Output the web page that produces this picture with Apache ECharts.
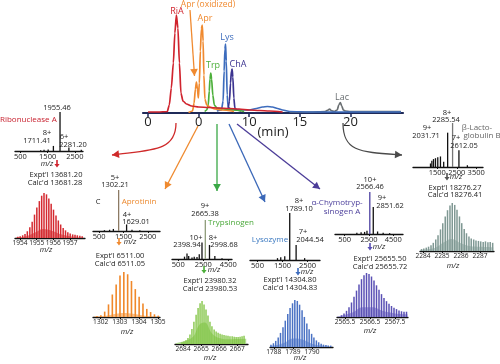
<!DOCTYPE html>
<html><head><meta charset="utf-8">
<script src="https://cdn.jsdelivr.net/npm/echarts@6/dist/echarts.min.js"></script>
<style>html,body{margin:0;padding:0;background:#fff}#c{width:500px;height:364px}</style>
</head><body><div id="c"></div><script>
// ---------------- DATA ----------------
// Chromatogram (time, min ; relative intensity)
const chromTicks = [0, 5, 10, 15, 20];
const chromTickLabels = ['0', '0', '10', '15', '20'];
const riaTime = [0,1,1.9,2.1,2.3,2.5,2.65,2.8,2.95,3.1,3.25,3.45,3.8,4.3,5,6,7,8,9,10,11,12,13.3];
const riaInt  = [1,1,1.5,8,25,50,80,98,85,50,20,12,9,7,6,5.5,5,4.5,4,3,2.5,2,1];
const aprTime = [4.0,4.4,4.55,4.68,4.78,4.88,4.97,5.07,5.17,5.27,5.36,5.44,5.52,5.62,5.8,6.1,6.6,7.3,8.5];
const aprInt  = [0.5,2,10,24,31,24,15,30,62,84,88,72,38,14,8,6,4,3,1.5];
const trpTime = [5.6,5.8,5.95,6.05,6.12,6.2,6.28,6.4,6.55,6.8,7.4,8.4,9.5];
const trpInt  = [1.5,3,8,22,34,40,34,18,8,5,4,3,1.5];
const lysTime = [6.8,7.25,7.42,7.52,7.6,7.66,7.73,7.82,7.92,8.2,9,10,10.7,11.3,11.8,12.3,12.8,13.3,14,16,18,20,22,25];
const lysInt  = [2,3,12,42,64,69,52,18,6,3.5,3,3,4.5,6,6.5,6,4.5,3,1.5,1,1,1,1,1];
const chaTime = [7.9,8.05,8.15,8.24,8.31,8.38,8.48,8.58,8.75,9.2];
const chaInt  = [3,12,30,42,44,36,15,5,3,2];
const lacTime = [14,16,17.5,17.8,17.95,18.1,18.4,18.7,18.85,19.0,19.15,19.3,19.5,20,22,25];
const lacInt  = [1,1,1.5,3,4,2.5,1.5,3,8,10.5,7,3,2,1.5,1.5,1.5];

// Full-range mass spectra (m/z ; relative intensity)
const riaSpecMz  = [1244,1368,1520,1711.41,1955.46,2281.20,2737];
const riaSpecInt = [2,3,4,13,100,9,3];
const aprSpecMz  = [720,931,1086,1302.21,1629.01,1850,2172];
const aprSpecInt = [2,3,5,100,16,3,2];
const trpSpecMz  = [1000,1200,1335,1600,1778,2000,2181,2398.94,2665.38,2998.68,3427,4000];
const trpSpecInt = [6,14,8,4,6,5,12,42,100,36,8,2];
const lysSpecMz  = [1300,1430,1590,1789.10,2044.54,2385];
const lysSpecInt = [4,6,8,100,32,4];
const chaSpecMz  = [1500,1850,2138,2333,2566.46,2851.62,3207,3666,4200];
const chaSpecInt = [3,4,5,8,100,64,6,3,2];
const lacSpecMz  = [1150,1220,1305,1406,1524,1662,1828,2031.71,2285.54,2612.05,3047];
const lacSpecInt = [8,14,18,20,22,24,12,78,100,38,4];
const riaSpecTicks = [500,1500,2500];
const aprSpecTicks = [500,1500,2500];
const trpSpecTicks = [500,2500,4500];
const lysSpecTicks = [500,1500,2500];
const chaSpecTicks = [500,2500,4500];
const lacSpecTicks = [1500,2500,3500];

// Isotopic distributions (m/z ; relative intensity)
const riaIsoMz  = [1953.87,1954.01,1954.16,1954.30,1954.44,1954.59,1954.73,1954.87,1955.01,1955.16,1955.30,1955.44,1955.59,1955.73,1955.87,1956.01,1956.16,1956.30,1956.44,1956.59,1956.73,1956.87,1957.01,1957.16,1957.30,1957.44,1957.59,1957.73];
const riaIsoInt = [3,4,6,9,15,24,36,52,68,82,94,100,97,88,76,63,50,39,30,22,17,13,10,8,7,6,5,4];
const riaFloorMz  = [1953.75,1954.4,1954.9,1955.4,1955.9,1956.4,1957.0,1957.85];
const riaFloorInt = [1,4,12,20,16,9,4,2];
const riaIsoTicks = [1954,1955,1956,1957];
const riaIsoTickLabels = ['1954','1955','1956','1957'];

const aprIsoMz  = [1301.81,1302.01,1302.21,1302.41,1302.61,1302.81,1303.01,1303.21,1303.41,1303.61,1303.81,1304.01,1304.21,1304.41,1304.61,1304.81,1305.01];
const aprIsoInt = [2,4,12,28,50,72,92,100,95,80,62,45,30,18,11,6,3];
const aprFloorMz  = [1301.65,1302.3,1302.8,1303.2,1303.7,1304.3,1305.05];
const aprFloorInt = [1,3,7,9,7,3,1];
const aprIsoTicks = [1302,1303,1304,1305];
const aprIsoTickLabels = ['1302','1303','1304','1305'];

const trpIsoMz  = [2663.94,2664.05,2664.16,2664.27,2664.38,2664.49,2664.60,2664.72,2664.83,2664.94,2665.05,2665.16,2665.27,2665.38,2665.49,2665.60,2665.72,2665.83,2665.94,2666.05,2666.16,2666.27,2666.38,2666.49,2666.60,2666.72,2666.83,2666.94,2667.05,2667.16,2667.27,2667.38];
const trpIsoInt = [4,6,9,14,22,35,52,68,84,95,100,92,80,66,52,41,34,29,26,24,22,21,20,19,18,18,17,16,16,17,18,19];
const trpFloorMz  = [2663.6,2664.5,2664.9,2665.2,2665.6,2666.0,2666.6,2667.5];
const trpFloorInt = [2,15,45,50,25,14,11,12];
const trpIsoTicks = [2664,2665,2666,2667];
const trpIsoTickLabels = ['2684','2665','2666','2667'];

const lysIsoMz  = [1787.85,1787.98,1788.10,1788.23,1788.35,1788.48,1788.60,1788.73,1788.85,1788.98,1789.10,1789.23,1789.35,1789.48,1789.60,1789.73,1789.85,1789.98,1790.10,1790.23,1790.35,1790.48,1790.60,1790.73,1790.85,1790.98];
const lysIsoInt = [5,8,13,20,30,42,56,70,83,93,100,98,90,78,64,50,38,28,20,14,10,7,5,4,3,3];
const lysFloorMz  = [1787.8,1788.5,1789.0,1789.5,1790.0,1790.5,1791.05];
const lysFloorInt = [2,8,18,16,7,3,2];
const lysIsoTicks = [1788,1789,1790];
const lysIsoTickLabels = ['1788','1789','1790'];

const chaIsoMz  = [2565.36,2565.46,2565.56,2565.66,2565.76,2565.86,2565.96,2566.06,2566.16,2566.26,2566.36,2566.46,2566.56,2566.66,2566.76,2566.86,2566.96,2567.06,2567.16,2567.26,2567.36,2567.46,2567.56,2567.66,2567.76,2567.86,2567.96];
const chaIsoInt = [4,8,14,22,33,46,60,74,86,95,100,98,92,83,72,62,52,43,36,30,25,21,18,15,13,12,12];
const chaFloorMz  = [2565.2,2565.8,2566.2,2566.6,2567.0,2567.5,2568.0];
const chaFloorInt = [1,10,22,22,14,8,6];
const chaIsoTicks = [2565.5,2566.5,2567.5];
const chaIsoTickLabels = ['2565.5','2566.5','2567.5'];

const lacIsoMz  = [2283.92,2284.04,2284.17,2284.29,2284.42,2284.54,2284.67,2284.79,2284.92,2285.04,2285.17,2285.29,2285.42,2285.54,2285.67,2285.79,2285.92,2286.04,2286.17,2286.29,2286.42,2286.54,2286.67,2286.79,2286.92,2287.04,2287.17,2287.29,2287.42,2287.54,2287.67];
const lacIsoInt = [4,5,7,9,12,17,24,33,45,58,72,85,95,100,96,86,72,58,46,37,30,26,24,22,21,20,19,20,18,19,17];
const lacFloorMz  = [2283.85,2284.6,2285.1,2285.5,2286.0,2286.5,2287.0,2287.7];
const lacFloorInt = [2,6,18,25,16,10,9,8];
const lacIsoTicks = [2284,2285,2286,2287];
const lacIsoTickLabels = ['2284','2285','2286','2287'];

// ---------------- LAYOUT / STYLE ----------------
const FONT = '"Open Sans", sans-serif';
const zip = (a, b) => a.map((v, i) => [v, b[i]]);
const C = {ria:'#d0242e', apr:'#f08a30', trp:'#4caf3a', lys:'#3d6cbd', cha:'#3c3490', lac:'#6a6f72'};

const panels = [
  {color:'#d42a30', floor:'#e07070', main:'#111', bw:1.5,
   spec:{left:15,width:68,top:112,bottom:151,min:300,max:2800}, sMz:riaSpecMz, sInt:riaSpecInt, sTicks:riaSpecTicks,
   iso:{left:15,width:70,top:193,bottom:238,min:1953.7,max:1957.9}, iMz:riaIsoMz, iInt:riaIsoInt, fMz:riaFloorMz, fInt:riaFloorInt, iTicks:riaIsoTicks, iLab:riaIsoTickLabels},
  {color:'#f0882a', floor:'#f6b67a', main:'#8c7a64', bw:1.6,
   spec:{left:93,width:67,top:190,bottom:231,min:250,max:3000}, sMz:aprSpecMz, sInt:aprSpecInt, sTicks:aprSpecTicks,
   iso:{left:93,width:67,top:272,bottom:317,min:1301.6,max:1305.1}, iMz:aprIsoMz, iInt:aprIsoInt, fMz:aprFloorMz, fInt:aprFloorInt, iTicks:aprIsoTicks, iLab:aprIsoTickLabels},
  {color:'#7cc23c', floor:'#a8d884', main:'#8e9c7a', bw:1.3,
   spec:{left:172,width:60,top:220,bottom:259,min:0,max:4800}, sMz:trpSpecMz, sInt:trpSpecInt, sTicks:trpSpecTicks,
   iso:{left:175,width:73,top:301,bottom:344,min:2663.55,max:2667.6}, iMz:trpIsoMz, iInt:trpIsoInt, fMz:trpFloorMz, fInt:trpFloorInt, iTicks:trpIsoTicks, iLab:trpIsoTickLabels},
  {color:'#4a72c4', floor:'#93abe0', main:'#111', bw:1.5,
   spec:{left:250,width:70,top:213,bottom:260,min:200,max:3000}, sMz:lysSpecMz, sInt:lysSpecInt, sTicks:lysSpecTicks,
   iso:{left:270,width:63,top:300,bottom:347,min:1787.8,max:1791.1}, iMz:lysIsoMz, iInt:lysIsoInt, fMz:lysFloorMz, fInt:lysFloorInt, iTicks:lysIsoTicks, iLab:lysIsoTickLabels},
  {color:'#5a50b4', floor:'#9d97d8', main:'#4b3fa0', bw:1.5,
   spec:{left:335,width:68,top:192,bottom:234,min:-300,max:5300}, sMz:chaSpecMz, sInt:chaSpecInt, sTicks:chaSpecTicks,
   iso:{left:337,width:71,top:273,bottom:317,min:2565.18,max:2568.02}, iMz:chaIsoMz, iInt:chaIsoInt, fMz:chaFloorMz, fInt:chaFloorInt, iTicks:chaIsoTicks, iLab:chaIsoTickLabels},
  {color:'#7f9893', floor:'#b3c4c0', main:'#777', bw:1.5,
   spec:{left:413,width:70,top:123,bottom:167,min:250,max:3850}, sMz:lacSpecMz, sInt:lacSpecInt, sTicks:lacSpecTicks,
   iso:{left:420,width:74,top:203,bottom:251,min:2283.84,max:2287.74}, iMz:lacIsoMz, iInt:lacIsoInt, fMz:lacFloorMz, fInt:lacFloorInt, iTicks:lacIsoTicks, iLab:lacIsoTickLabels}
];

const grids = [], xAxes = [], yAxes = [], series = [];

// chromatogram
grids.push({left:143, top:13, width:260, height:100});
xAxes.push({gridIndex:0, type:'value', min:-0.5, max:25.2,
  axisLine:{show:true, onZero:false, lineStyle:{color:'#1f2a58', width:2.2}},
  axisTick:{show:true, customValues:chromTicks, length:4, lineStyle:{color:'#1f2a58', width:1.5}},
  axisLabel:{customValues:chromTicks, formatter:v => chromTickLabels[chromTicks.indexOf(v)], fontSize:13, color:'#222', margin:3, fontFamily:FONT, showMinLabel:true, showMaxLabel:true, hideOverlap:false},
  splitLine:{show:false}});
yAxes.push({gridIndex:0, type:'value', min:0, max:100, show:false});
const traces = [
  [lacTime, lacInt, C.lac], [lysTime, lysInt, C.lys], [chaTime, chaInt, C.cha],
  [trpTime, trpInt, C.trp], [aprTime, aprInt, C.apr], [riaTime, riaInt, C.ria]
];
traces.forEach((t, i) => series.push({type:'line', xAxisIndex:0, yAxisIndex:0, data:zip(t[0], t[1]),
  showSymbol:false, smooth:0.25, smoothMonotone:'x', lineStyle:{color:t[2], width:1.7}, z:3 + i, silent:true}));

function specAxis(gi, g, ticks, labels, fs) {
  xAxes.push({gridIndex:gi, type:'value', min:g.min, max:g.max,
    axisLine:{show:true, onZero:false, lineStyle:{color:'#111', width:1.3}},
    axisTick:{show:true, customValues:ticks, length:2, lineStyle:{color:'#111'}},
    axisLabel:{customValues:ticks, formatter:v => labels ? labels[ticks.indexOf(v)] : String(v), fontSize:fs, color:'#222', margin:2,
      fontFamily:FONT, showMinLabel:true, showMaxLabel:true, hideOverlap:false},
    splitLine:{show:false}});
  yAxes.push({gridIndex:gi, type:'value', min:0, max:100, show:false});
}

panels.forEach(p => {
  grids.push({left:p.spec.left, top:p.spec.top, width:p.spec.width, height:p.spec.bottom - p.spec.top});
  let gi = grids.length - 1;
  specAxis(gi, p.spec, p.sTicks, null, 7.5);
  series.push({type:'bar', xAxisIndex:gi, yAxisIndex:gi, data:zip(p.sMz, p.sInt), barWidth:1.3, silent:true,
    itemStyle:{color: prm => prm.value[1] === 100 ? p.main : '#111'}});
  grids.push({left:p.iso.left, top:p.iso.top, width:p.iso.width, height:p.iso.bottom - p.iso.top});
  gi = grids.length - 1;
  specAxis(gi, p.iso, p.iTicks, p.iLab, 6.6);
  series.push({type:'line', xAxisIndex:gi, yAxisIndex:gi, data:zip(p.fMz, p.fInt), showSymbol:false, smooth:0.4,
    lineStyle:{width:0}, areaStyle:{color:p.floor, opacity:0.85}, silent:true, z:1});
  series.push({type:'bar', xAxisIndex:gi, yAxisIndex:gi, data:zip(p.iMz, p.iInt), barWidth:p.bw, silent:true,
    itemStyle:{color:p.color}, z:2});
});

// ---------------- ANNOTATIONS ----------------
const graphic = [];
function txt(text, x, y, fill, size, opt) {
  opt = opt || {};
  graphic.push({type:'text', x, y, z:50, silent:true,
    style:{text, fill:fill || '#222', fontSize:size || 7.5, fontFamily:FONT, fontStyle:opt.italic ? 'italic' : 'normal',
      textAlign:opt.align || 'center', textVerticalAlign:'middle'}});
}
const mz = (x, y) => txt('m/z', x, y, '#222', 7.5, {italic:true});
function head(tx, ty, ang, color, s) {
  const c = Math.cos(ang), sn = Math.sin(ang), w = s * 0.55;
  const bx = tx - s * c, by = ty - s * sn;
  graphic.push({type:'polygon', z:40, silent:true, shape:{points:[[tx, ty], [bx - w * sn, by + w * c], [bx + w * sn, by - w * c]]}, style:{fill:color}});
}
function arrowLine(x1, y1, x2, y2, color) {
  graphic.push({type:'line', z:40, silent:true, shape:{x1, y1, x2, y2}, style:{stroke:color, lineWidth:1.3}});
  head(x2, y2, Math.atan2(y2 - y1, x2 - x1), color, 7);
}
function arrowCurve(x1, y1, c1x, c1y, c2x, c2y, x2, y2, color) {
  graphic.push({type:'bezierCurve', z:40, silent:true, shape:{x1, y1, cpx1:c1x, cpy1:c1y, cpx2:c2x, cpy2:c2y, x2, y2}, style:{stroke:color, lineWidth:1.3, fill:null}});
  head(x2, y2, Math.atan2(y2 - c2y, x2 - c2x), color, 7);
}
function smallArrow(x, y, color) {
  graphic.push({type:'polygon', z:40, silent:true, shape:{points:[[x - 0.8, y - 4], [x + 0.8, y - 4], [x + 0.8, y], [x + 2.6, y], [x, y + 3.5], [x - 2.6, y], [x - 0.8, y]]}, style:{fill:color}});
}

// chromatogram labels
txt('RiA', 177, 11, C.ria, 9);
txt('Apr (oxidized)', 208, 5, C.apr, 8.5);
txt('Apr', 205, 18, C.apr, 9);
txt('Trp', 213, 65, C.trp, 9);
txt('Lys', 227, 37, C.lys, 9);
txt('ChA', 238, 64, C.cha, 9);
txt('Lac', 342, 97, C.lac, 9);
txt('(min)', 273, 132, '#222', 13);
arrowLine(190, 10, 194.5, 76, C.apr);

// arrows from chromatogram to panels
arrowCurve(176, 123, 176, 152, 150, 150, 112, 155, '#cf2a2a');
arrowLine(198, 126, 165, 189, '#ef8a2f');
arrowLine(217, 124, 217, 191, '#3aa846');
arrowLine(229, 124, 265, 202, '#3b68b8');
arrowLine(237, 124, 320, 189, '#4b3c98');
arrowCurve(343, 123, 343, 152, 360, 152, 402, 155, '#4a4a4a');

// Ribonuclease A
txt('1955.46', 57, 108);
txt('Ribonuclease A', 0, 120, '#c8202e', 8, {align:'left'});
txt('8+', 47, 133); txt('1711.41', 37, 141);
txt('6+', 64, 137); txt('2281.20', 73, 145);
mz(47, 164); smallArrow(57, 164, '#d0242e');
txt("Expt'l 13681.20", 56, 175); txt("Calc'd 13681.28", 55, 183);
mz(46, 250);

// Aprotinin
txt('5+', 115, 178); txt('1302.21', 115, 185);
txt('C', 98, 202);
txt('Aprotinin', 139, 202, '#ec8a30', 8);
txt('4+', 127, 215); txt('1629.01', 136, 222);
smallArrow(119, 242, '#f08a30'); mz(130, 242);
txt("Expt'l 6511.00", 120, 256); txt("Calc'd 6511.05", 120, 264);
mz(127, 332);

// Trypsinogen
txt('9+', 205, 206); txt('2665.38', 205, 214);
txt('Trypsinogen', 231, 223, '#4aa83a', 8);
txt('10+', 196, 238); txt('2398.94', 187, 245);
txt('8+', 213, 238); txt('2998.68', 224, 245);
smallArrow(204, 270, '#4caf3a'); mz(214, 270);
txt("Expt'l 23980.32", 210, 281); txt("Calc'd 23980.53", 210, 289);
mz(210, 358);

// Lysozyme
txt('8+', 299, 201); txt('1789.10', 299, 209);
txt('7+', 303, 232); txt('2044.54', 310, 240);
txt('Lysozyme', 270, 240, '#3a78c0', 8);
smallArrow(298, 272, '#3d6cbd'); mz(307, 272);
txt("Expt'l 14304.80", 290, 280); txt("Calc'd 14304.83", 290, 288);
mz(300, 358);

// alpha-Chymotrypsinogen A
txt('10+', 370, 180); txt('2566.46', 370, 187);
txt('9+', 382, 198); txt('2851.62', 390, 206);
txt('α-Chymotryp-', 337, 203, '#4a3d9a', 8); txt('sinogen A', 342, 212, '#4a3d9a', 8);
smallArrow(370, 247, '#5a50b4'); mz(379, 247);
txt("Expt'l 25655.50", 380, 259); txt("Calc'd 25655.72", 380, 267);
mz(370, 331);

// beta-Lactoglobulin B
txt('8+', 447, 113); txt('2285.54', 446, 120);
txt('9+', 427, 128); txt('2031.71', 426, 136);
txt('7+', 456, 138); txt('2612.05', 464, 146);
txt('β-Lacto-', 477, 128, '#666', 8); txt('globulin B', 482, 136, '#666', 8);
smallArrow(447, 177, '#555'); mz(456, 177);
txt("Expt'l 18276.27", 455, 188); txt("Calc'd 18276.41", 455, 195);
mz(453, 266);

const chart = echarts.init(document.getElementById('c'));
chart.setOption({animation:false, backgroundColor:'#fff', grid:grids, xAxis:xAxes, yAxis:yAxes, series, graphic});
</script></body></html>
